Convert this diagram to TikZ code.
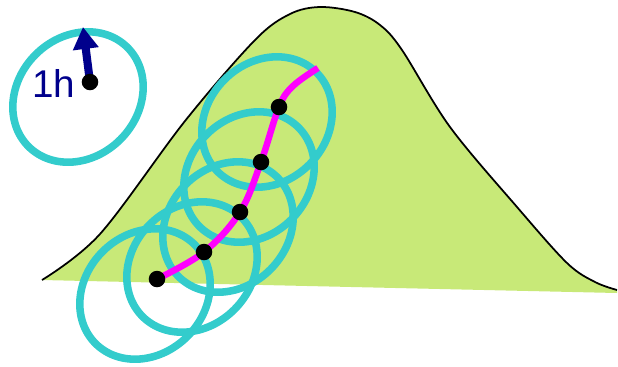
\documentclass[tikz,border=0pt]{standalone}
\usepackage{fontspec}
\setsansfont{Liberation Sans}
\usetikzlibrary{arrows.meta}

\definecolor{hillgreen}{RGB}{200,233,120}
\definecolor{ringcyan}{RGB}{51,204,204}
\definecolor{trackmagenta}{RGB}{255,0,255}
\definecolor{arrownavy}{RGB}{0,0,140}

\tikzset{
  ring/.style={ringcyan, line width=4.3pt},
  spot/.style={circle, fill=black, inner sep=0pt, minimum size=9.4pt},
}

\begin{document}
\begin{tikzpicture}[x=0.02cm, y=-0.02cm]
    \useasboundingbox (0,0) rectangle (618,366);

    % Draw the hill
    \fill[hillgreen] plot[smooth, tension=0.55] coordinates {(42,280) (100,234) (185,121) (255,40) (290,14) (320,7) (355,12) (380,25) (402,50) (450,127) (517,207) (567,263) (595,282) (617,290)} -- (617,293) -- cycle;
    \draw[line width=1pt] plot[smooth, tension=0.55] coordinates {(42,280) (100,234) (185,121) (255,40) (290,14) (320,7) (355,12) (380,25) (402,50) (450,127) (517,207) (567,263) (595,282) (617,290)};

    % Centres of the ellipses
    \coordinate (c0) at (78,97);
    \coordinate (c1) at (145,294);
    \coordinate (c2) at (192,267);
    \coordinate (c3) at (228,227);
    \coordinate (c4) at (249,177);
    \coordinate (c5) at (267,122);

    % Points on the track
    \coordinate (p0) at (90,82);
    \coordinate (p1) at (157,279);
    \coordinate (p2) at (204,252);
    \coordinate (p3) at (240,212);
    \coordinate (p4) at (261,162);
    \coordinate (p5) at (279,107);
    \coordinate (pbend) at (293,86);
    \coordinate (pend) at (318,68);
    \coordinate (tip) at (83,27);

    % Draw the ellipses
    \draw[ring, rotate around={45:(c0)}] (c0) ellipse [x radius=70, y radius=60];
    \draw[ring, rotate around={45:(c1)}] (c1) ellipse [x radius=70, y radius=60];
    \draw[ring, rotate around={45:(c2)}] (c2) ellipse [x radius=70, y radius=60];
    \draw[ring, rotate around={45:(c3)}] (c3) ellipse [x radius=70, y radius=60];
    \draw[ring, rotate around={45:(c4)}] (c4) ellipse [x radius=70, y radius=60];
    \draw[ring, rotate around={45:(c5)}] (c5) ellipse [x radius=70, y radius=60];

    % Draw the track
    \draw[trackmagenta, line width=3.7pt] plot[smooth, tension=0.6] coordinates {(p1) (p2) (p3) (p4) (p5) (pbend) (pend)};

    % Arrow and label
    \draw[arrownavy, line width=4.6pt, -{Triangle[length=12.5pt, width=14pt]}] (p0) -- (tip);
    \node[text=arrownavy, font=\sffamily\fontsize{22}{26}\selectfont, anchor=base east, inner sep=0pt] (hour) at (75.5,97) {1h};

    % Draw the points
    \node[spot] (s0) at (p0) {};
    \node[spot] (s1) at (p1) {};
    \node[spot] (s2) at (p2) {};
    \node[spot] (s3) at (p3) {};
    \node[spot] (s4) at (p4) {};
    \node[spot] (s5) at (p5) {};
\end{tikzpicture}
\end{document}
